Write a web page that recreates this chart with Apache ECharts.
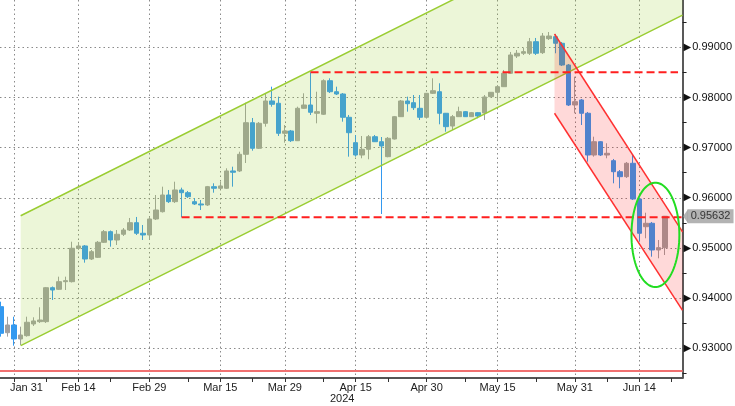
<!DOCTYPE html>
<html><head><meta charset="utf-8">
<script src="https://cdn.jsdelivr.net/npm/echarts@6.0.0/dist/echarts.min.js"></script>
<style>html,body{margin:0;padding:0;background:#fff}#c{width:735px;height:406px}</style>
</head><body><div id="c"></div>
<script>
// ---- data ----
const dates = ['Jan 29','Jan 30','Jan 31','Feb 1','Feb 2','Feb 5','Feb 6','Feb 7','Feb 8','Feb 9','Feb 12','Feb 13','Feb 14','Feb 15','Feb 16','Feb 19','Feb 20','Feb 21','Feb 22','Feb 23','Feb 26','Feb 27','Feb 28','Feb 29',
'Mar 1','Mar 4','Mar 5','Mar 6','Mar 7','Mar 8','Mar 11','Mar 12','Mar 13','Mar 14','Mar 15','Mar 18','Mar 19','Mar 20','Mar 21','Mar 22','Mar 25','Mar 26','Mar 27','Mar 28','Mar 29',
'Apr 1','Apr 2','Apr 3','Apr 4','Apr 5','Apr 8','Apr 9','Apr 10','Apr 11','Apr 12','Apr 15','Apr 16','Apr 17','Apr 18','Apr 19','Apr 22','Apr 23','Apr 24','Apr 25','Apr 26','Apr 29','Apr 30',
'May 1','May 2','May 3','May 6','May 7','May 8','May 9','May 10','May 13','May 14','May 15','May 16','May 17','May 20','May 21','May 22','May 23','May 24','May 27','May 28','May 29','May 30','May 31',
'Jun 3','Jun 4','Jun 5','Jun 6','Jun 7','Jun 10','Jun 11','Jun 12','Jun 13','Jun 14','Jun 17','Jun 18','Jun 19','Jun 20'];
const open = [0.93830,0.93311,0.93465,0.93186,0.93252,0.93485,0.93531,0.93531,0.94208,0.94176,0.94328,0.94328,0.94994,0.95040,0.94780,0.94814,0.95113,0.95325,0.95159,0.95273,0.95358,0.95504,0.95293,0.95259,
0.95578,0.95723,0.96056,0.95923,0.96156,0.96102,0.95923,0.95877,0.95857,0.96222,0.96190,0.96190,0.96535,0.96535,0.96867,0.97497,0.96987,0.97485,0.97930,0.97884,0.97286,
0.97332,0.97138,0.97784,0.97850,0.97685,0.97665,0.98334,0.98115,0.98069,0.97605,0.97099,0.96853,0.96967,0.97218,0.97118,0.96820,0.97172,0.97617,0.97930,0.97896,0.97784,0.97605,
0.98083,0.98115,0.97685,0.97431,0.97617,0.97717,0.97617,0.97697,0.97691,0.98016,0.98103,0.98215,0.98482,0.98827,0.98881,0.98881,0.99112,0.98893,0.99172,0.99212,0.99080,0.98647,0.97850,
0.97950,0.97685,0.96853,0.97118,0.96853,0.96740,0.96520,0.96421,0.96688,0.95976,0.95424,0.95492,0.94960,0.95006];
const close = [0.93299,0.93465,0.93186,0.93265,0.93519,0.93545,0.93564,0.94208,0.94162,0.94328,0.94348,0.94994,0.95040,0.94780,0.94926,0.95113,0.95325,0.95159,0.95273,0.95358,0.95504,0.95293,0.95259,0.95578,
0.95757,0.96056,0.95923,0.96156,0.96102,0.96022,0.95877,0.95857,0.96222,0.96190,0.96236,0.96535,0.96509,0.96867,0.97497,0.96987,0.97485,0.97930,0.97864,0.97286,0.97332,
0.97138,0.97784,0.97850,0.97705,0.97717,0.98334,0.98115,0.98069,0.97605,0.97298,0.96853,0.96967,0.97218,0.97118,0.97033,0.97186,0.97617,0.97930,0.97876,0.97796,0.97605,0.98083,
0.98135,0.97685,0.97418,0.97617,0.97717,0.97617,0.97697,0.97631,0.98010,0.98103,0.98215,0.98482,0.98847,0.98881,0.98913,0.99112,0.98881,0.99225,0.99225,0.99080,0.98647,0.97850,0.97916,
0.97685,0.96853,0.97118,0.96853,0.96887,0.96520,0.96421,0.96688,0.95976,0.95293,0.95492,0.94960,0.95006,0.95632];
const low = [0.93232,0.93232,0.93052,0.93066,0.93232,0.93445,0.93505,0.93505,0.93963,0.94162,0.94162,0.94312,0.94960,0.94707,0.94760,0.94800,0.95099,0.95026,0.95059,0.95239,0.95338,0.95259,0.95159,0.95159,
0.95558,0.95707,0.95897,0.95897,0.95612,0.95996,0.95857,0.95757,0.95837,0.96102,0.96176,0.96176,0.96222,0.96515,0.96694,0.96939,0.96973,0.97418,0.97816,0.97232,0.97099,
0.97113,0.97132,0.97770,0.97651,0.97485,0.97651,0.98089,0.98049,0.97517,0.96820,0.96820,0.96788,0.96768,0.97113,0.95677,0.96808,0.97162,0.97611,0.97717,0.97750,0.97551,0.97591,
0.98069,0.97465,0.97318,0.97352,0.97611,0.97611,0.97611,0.97585,0.97551,0.98010,0.97916,0.98209,0.98468,0.98787,0.98847,0.98847,0.98847,0.98867,0.99146,0.98881,0.98627,0.97830,0.97685,
0.97451,0.96720,0.96820,0.96833,0.96788,0.96289,0.96190,0.96395,0.95956,0.95125,0.95193,0.94826,0.94794,0.94860];
const high = [0.93929,0.93630,0.93630,0.93431,0.93630,0.93618,0.93818,0.94222,0.94232,0.94428,0.94428,0.95125,0.95119,0.95059,0.94960,0.95139,0.95358,0.95348,0.95358,0.95398,0.95598,0.95618,0.95458,0.95624,
0.96056,0.96222,0.96156,0.96321,0.96202,0.96136,0.95996,0.95956,0.96236,0.96289,0.96321,0.96588,0.96620,0.96919,0.97896,0.97591,0.97511,0.98083,0.98215,0.98016,0.97451,
0.97352,0.97816,0.98083,0.98502,0.98115,0.98362,0.98382,0.98215,0.98089,0.97651,0.97252,0.97232,0.97252,0.97252,0.97212,0.97212,0.97631,0.97950,0.98016,0.98049,0.98049,0.98089,
0.98382,0.98283,0.97691,0.97651,0.97816,0.97730,0.97711,0.97711,0.98049,0.98109,0.98249,0.98548,0.98907,0.98946,0.98986,0.99186,0.99186,0.99285,0.99305,0.99265,0.99106,0.98667,0.98414,
0.97970,0.97711,0.97218,0.97132,0.97087,0.96774,0.96554,0.96714,0.96853,0.95996,0.95703,0.95518,0.95159,0.95638];
const xTickLabels = ['Jan 31','Feb 14','Feb 29','Mar 15','Mar 29','Apr 15','Apr 30','May 15','May 31','Jun 14'];
const xMinorTickDays = ['Feb 7','Feb 21','Mar 8','Mar 22','Apr 8','Apr 22','May 8','May 23','Jun 7'];
const yTickLabels = ['0.93000','0.94000','0.95000','0.96000','0.97000','0.98000','0.99000'];
const yMinorTicks = [0.925,0.935,0.945,0.955,0.965,0.975,0.985,0.995];
const lastPrice = 0.95632;
const resistanceLevel = 0.98502;   // from Apr 4 high
const supportLevel = 0.95612;      // from Mar 1 low
const bottomLevel = 0.92546;
// trend channels: [xStart, xEnd, lowerStart, lowerEnd, upperStart, upperEnd]
const greenChannel = [3.04, 105.7, 0.93052, 0.99643, 0.95643, 1.02235];
const redChannel = [85.84, 105.7, 0.97685, 0.93756, 0.99265, 0.95319];
// ellipse: [centerX, centerY, radiusX, radiusY]
const ellipse = [101.49, 0.95261, 3.715, 0.010405];

// ---- chart ----
const xMin = -0.167, xMax = 105.7;
const yMin = 0.92408, yMax = 0.99943;
const FONT = 'Liberation Sans';
const candleData = dates.map((d, i) => [i, open[i], close[i], low[i], high[i]]);
const majorIdx = xTickLabels.map(l => dates.indexOf(l));
const minorIdx = xMinorTickDays.map(l => dates.indexOf(l)).concat([dates.length]);
const yMajor = yTickLabels.map(Number);
const dotted = {color: '#8a8a8a', type: [1.5, 3], width: 1};

function channelRender(fill, stroke) {
  return function (params, api) {
    const x0 = api.value(0), x1 = api.value(1);
    const pL0 = api.coord([x0, api.value(2)]), pL1 = api.coord([x1, api.value(3)]);
    const pU0 = api.coord([x0, api.value(4)]), pU1 = api.coord([x1, api.value(5)]);
    return {type: 'group', children: [
      {type: 'polygon', shape: {points: [pL0, pL1, pU1, pU0]}, style: {fill: fill}},
      {type: 'line', shape: {x1: pL0[0], y1: pL0[1], x2: pL1[0], y2: pL1[1]}, style: {stroke: stroke, lineWidth: 1.5}},
      {type: 'line', shape: {x1: pU0[0], y1: pU0[1], x2: pU1[0], y2: pU1[1]}, style: {stroke: stroke, lineWidth: 1.5}}
    ]};
  };
}
function ellipseRender(params, api) {
  const c = api.coord([api.value(0), api.value(1)]);
  const s = api.size([api.value(2), api.value(3)]);
  const pts = [];
  for (let k = 0; k < 90; k++) {
    const a = k / 90 * Math.PI * 2;
    pts.push([c[0] + s[0] * Math.cos(a), c[1] + s[1] * Math.sin(a)]);
  }
  return {type: 'polygon', shape: {points: pts}, style: {fill: 'none', stroke: '#22dd22', lineWidth: 2}};
}
function hLine(y, x0, x1, style, z) {
  return {type: 'line', data: [[x0, y], [x1, y]], symbol: 'none', silent: true, z: z,
    lineStyle: style, xAxisIndex: 0, yAxisIndex: 0};
}

const chart = echarts.init(document.getElementById('c'), null, {renderer: 'canvas'});
chart.setOption({
  animation: false,
  backgroundColor: '#ffffff',
  grid: {left: 0, right: 51, top: 0, bottom: 28},
  xAxis: [{
    type: 'value', min: xMin, max: xMax, position: 'bottom',
    axisLine: {show: true, onZero: false, lineStyle: {color: '#555', width: 2}},
    axisTick: {show: true, customValues: majorIdx.concat(minorIdx), length: 4, lineStyle: {color: '#333'}},
    axisLabel: {customValues: majorIdx, margin: 4, color: '#222', fontFamily: FONT, fontSize: 11,
      formatter: function (v) {
        const t = dates[Math.round(v)];
        return Math.round(v) === majorIdx[0] ? '{f|' + t + '}' : t;
      },
      rich: {f: {width: 58, align: 'right', fontFamily: FONT, fontSize: 11, color: '#222'}}},
    splitLine: {show: false}
  }, {
    // grid lines only (invisible axis)
    type: 'value', min: xMin, max: xMax, position: 'top',
    axisLine: {show: false, onZero: false},
    axisTick: {show: false, customValues: majorIdx},
    axisLabel: {show: false},
    splitLine: {show: true, lineStyle: dotted}
  }],
  yAxis: [{
    type: 'value', min: yMin, max: yMax, position: 'right',
    axisLine: {show: true, onZero: false, lineStyle: {color: '#222', width: 1.5}},
    axisTick: {show: true, customValues: yMinorTicks, length: 4, lineStyle: {color: '#222'}},
    axisLabel: {customValues: yMajor, margin: 1, color: '#111', fontFamily: FONT, fontSize: 11,
      formatter: v => '{t|\u25B6}' + v.toFixed(5),
      rich: {t: {fontSize: 10, color: '#111', fontFamily: 'DejaVu Sans', padding: [0, 1, 0, 0]}}},
    splitLine: {show: false}
  }, {
    // grid lines only
    type: 'value', min: yMin, max: yMax, position: 'left',
    axisLine: {show: false, onZero: false},
    axisTick: {show: false, customValues: yMajor},
    axisLabel: {show: false},
    splitLine: {show: true, lineStyle: dotted}
  }],
  series: [
    {type: 'candlestick', data: candleData, encode: {x: 0, y: [1, 2, 3, 4]}, barWidth: 5, z: 2,
      itemStyle: {color: '#a0a0a0', color0: '#3399f0', borderColor: '#a0a0a0', borderColor0: '#3399f0', borderWidth: 1}},
    {type: 'custom', data: [greenChannel], encode: {x: [0, 1], y: [2, 3, 4, 5]}, clip: true, z: 3, silent: true,
      renderItem: channelRender('rgba(154,205,50,0.19)', '#9acd32')},
    {type: 'custom', data: [redChannel], encode: {x: [0, 1], y: [2, 3, 4, 5]}, clip: true, z: 4, silent: true,
      renderItem: channelRender('rgba(255,0,0,0.15)', '#ff3030')},
    hLine(resistanceLevel, 48, 105, {color: '#ff1f1f', width: 2, type: [8, 4]}, 5),
    hLine(supportLevel, 28, xMax, {color: '#ff1f1f', width: 2, type: [8, 4]}, 5),
    hLine(bottomLevel, xMin, xMax, {color: '#f07070', width: 2}, 5),
    {type: 'custom', data: [ellipse], encode: {x: 0, y: 1}, clip: false, z: 6, silent: true, renderItem: ellipseRender},
    {type: 'scatter', data: [[xMax, lastPrice]], clip: false, z: 7, silent: true,
      symbol: 'triangle', symbolSize: [14, 5], symbolRotate: 90, symbolOffset: [3, 0],
      itemStyle: {color: '#a0a0a0'}},
    {type: 'scatter', data: [[xMax, lastPrice]], clip: false, z: 7, silent: true,
      symbol: 'rect', symbolSize: [46, 14], symbolOffset: [28, 0],
      itemStyle: {color: '#a0a0a0'},
      label: {show: true, position: 'inside', formatter: () => lastPrice.toFixed(5), color: '#111', fontFamily: FONT, fontSize: 11}}
  ],
  graphic: [{type: 'text', left: 330, top: 393, style: {text: '2024', fill: '#222', font: '11px "' + FONT + '"'}}]
});
</script>
</body></html>
